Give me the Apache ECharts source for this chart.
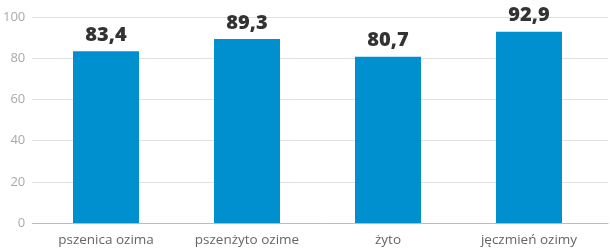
<!DOCTYPE html>
<html><head><meta charset="utf-8">
<script src="https://cdn.jsdelivr.net/npm/echarts@6/dist/echarts.min.js"></script>
<style>html,body{margin:0;padding:0;background:#fff}#c{width:610px;height:252px}</style>
</head><body><div id="c"></div>
<script>
const categories = ["pszenica ozima", "pszenżyto ozime", "żyto", "jęczmień ozimy"];
const values = [83.4, 89.3, 80.7, 92.9];
const yTicks = [0, 20, 40, 60, 80, 100];

const chart = echarts.init(document.getElementById('c'), null, {renderer: 'canvas'});
const font = '"Open Sans", sans-serif';
chart.setOption({
  animation: false,
  grid: [
    {left: 31, right: 2, top: 17, bottom: 29, containLabel: false},
    {left: 35.5, right: 10.5, top: 17, bottom: 29, containLabel: false}
  ],
  xAxis: [
    {gridIndex: 0, type: 'category', data: categories, show: true,
     axisLine: {show: true, lineStyle: {color: '#bbbbbb', width: 1}},
     axisTick: {show: false}, axisLabel: {show: false}},
    {gridIndex: 1, type: 'category', data: categories,
     axisLine: {show: false}, axisTick: {show: false},
     axisLabel: {color: '#666666', fontFamily: font, fontSize: 13.5, margin: 10}}
  ],
  yAxis: [
    {gridIndex: 0, type: 'value', min: yTicks[0], max: yTicks[yTicks.length - 1], interval: 20,
     axisLine: {show: false}, axisTick: {show: false},
     axisLabel: {color: '#aaaaaa', fontFamily: font, fontSize: 13, margin: 7},
     splitLine: {lineStyle: {color: '#e0e0e0', width: 1}}},
    {gridIndex: 1, type: 'value', min: yTicks[0], max: yTicks[yTicks.length - 1], interval: 20,
     show: false, splitLine: {show: false}}
  ],
  series: [{
    type: 'bar', xAxisIndex: 1, yAxisIndex: 1, data: values, barWidth: 66,
    itemStyle: {color: '#0090d0'},
    label: {show: true, position: 'top', distance: 6, color: '#333333',
      fontFamily: font, fontWeight: 800, fontSize: 20,
      formatter: p => String(p.value).replace('.', ',')}
  }]
});
</script></body></html>
